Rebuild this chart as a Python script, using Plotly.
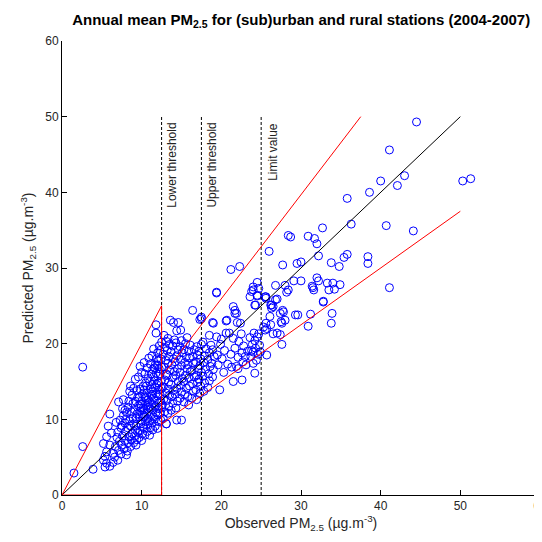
import plotly.graph_objects as go

# ---- data: (observed, predicted) annual means ----
pts_low = [(1.5, 2.9), (2.6, 6.4), (2.6, 16.9), (3.9, 3.4), (5.2, 4.6), (5.6, 4.2), (6.4, 4.3),
           (5.4, 3.7), (6.0, 3.8), (5.8, 9.1), (5.6, 7.7), (6.0, 10.7), (5.2, 6.8), (6.0, 6.6),
           (5.6, 5.7), (6.4, 5.5), (5.4, 5.1), (6.2, 8.2)]

pts_a = [(6.6, 5.0), (6.7, 6.4), (6.9, 7.6), (6.8, 9.6), (7.0, 4.6), (7.1, 5.9), (7.2, 7.1), (7.0, 8.3),
         (7.3, 9.9), (7.1, 12.3), (7.4, 5.4), (7.5, 6.6), (7.6, 7.8), (7.4, 8.9), (7.7, 10.5), (7.6, 11.4),
         (7.8, 6.1), (7.9, 7.2), (8.0, 8.4), (7.9, 9.5), (8.1, 10.9), (7.7, 12.6), (7.9, 11.2), (8.2, 5.8),
         (8.3, 6.9), (8.4, 7.7), (8.2, 8.9), (8.5, 9.8), (8.3, 11.6), (8.5, 13.7), (8.6, 6.4), (8.7, 7.3),
         (8.8, 8.1), (8.6, 9.1), (8.9, 10.2), (8.7, 11.0), (8.9, 12.1), (8.8, 13.2), (9.0, 6.9), (9.1, 7.8),
         (9.2, 8.6), (9.0, 9.4), (9.3, 10.1), (9.1, 11.3), (9.2, 12.4), (9.0, 14.1), (9.4, 7.3), (9.5, 8.3),
         (9.3, 9.1), (9.4, 10.7), (9.6, 11.8), (9.5, 12.9), (9.4, 13.8), (9.2, 15.3), (8.4, 12.4), (8.0, 10.0),
         (7.5, 9.2), (8.6, 14.4), (9.3, 6.6), (8.1, 5.3)]

pts_b = [(9.7, 7.6), (9.8, 8.5), (9.9, 9.4), (9.7, 10.3), (9.8, 11.1), (9.9, 12.0), (9.7, 12.9), (9.8, 14.0),
         (9.6, 15.6), (9.8, 17.0), (10.0, 7.2), (10.1, 8.1), (10.2, 9.0), (10.0, 9.8), (10.1, 10.7), (10.2, 11.5),
         (10.0, 12.4), (10.1, 13.3), (10.2, 14.4), (10.0, 16.2), (10.4, 7.9), (10.3, 8.8), (10.5, 9.7), (10.4, 10.4),
         (10.3, 11.3), (10.5, 12.1), (10.4, 13.0), (10.3, 13.9), (10.5, 14.8), (10.4, 16.0), (10.3, 17.5),
         (10.7, 8.4), (10.6, 9.3), (10.8, 10.1), (10.7, 10.9), (10.6, 11.8), (10.8, 12.6), (10.7, 13.5), (10.6, 14.4),
         (10.8, 15.4), (10.7, 16.8), (10.9, 18.1), (11.0, 7.9), (11.1, 8.9), (11.0, 9.8), (11.2, 10.6), (11.1, 11.4),
         (11.0, 12.3), (11.2, 13.1), (11.1, 14.0), (11.0, 15.0), (11.2, 16.0), (11.1, 17.3), (11.4, 8.6), (11.3, 9.5),
         (11.5, 10.3), (11.4, 11.2), (11.3, 12.0), (11.5, 12.8), (11.4, 13.7), (11.3, 14.6), (11.5, 15.6), (11.4, 16.6),
         (11.3, 18.4), (11.5, 19.3), (11.7, 9.1), (11.6, 10.0), (11.8, 10.9), (11.7, 11.7), (11.6, 12.5), (11.8, 13.4),
         (11.7, 14.2), (11.6, 15.1), (11.8, 16.1), (11.7, 17.2), (11.9, 18.0), (11.8, 21.4), (11.8, 22.5), (12.0, 8.8),
         (12.1, 9.7), (12.0, 10.6), (12.2, 11.4), (12.1, 12.2), (12.0, 13.1), (12.2, 13.9), (12.1, 14.8), (12.0, 15.7),
         (12.2, 16.7), (12.1, 17.7), (12.0, 18.8), (12.2, 19.7), (12.4, 9.9), (12.3, 10.8), (12.5, 11.6), (12.4, 12.4),
         (12.3, 13.3), (12.5, 14.1), (12.4, 15.0), (12.3, 16.0), (12.5, 16.9), (12.4, 18.0), (12.3, 19.1), (12.5, 20.2),
         (10.9, 11.6), (11.3, 13.3), (10.5, 12.8), (11.9, 14.6), (10.2, 10.3), (11.6, 16.8), (12.0, 17.2), (9.9, 11.5)]

pts_c = [(12.7, 10.1), (12.9, 11.0), (12.6, 11.9), (12.8, 12.7), (13.0, 13.5), (12.7, 14.3), (12.9, 15.2),
         (13.1, 16.0), (12.8, 16.9), (13.0, 17.8), (12.7, 18.6), (12.9, 19.5), (13.1, 20.3), (12.8, 21.1), (13.1, 9.4),
         (13.3, 10.8), (13.4, 11.7), (13.2, 12.5), (13.5, 13.2), (13.3, 14.0), (13.4, 14.9), (13.2, 15.8), (13.5, 16.5),
         (13.3, 17.4), (13.4, 18.3), (13.2, 19.1), (13.5, 19.9), (13.3, 20.7), (13.6, 23.1), (13.7, 11.2), (13.9, 12.1),
         (13.8, 13.0), (14.0, 13.8), (13.7, 14.6), (13.9, 15.5), (14.1, 16.3), (13.8, 17.2), (14.0, 18.0), (13.7, 18.9),
         (13.9, 19.7), (14.1, 20.5), (14.0, 22.8), (14.4, 21.7), (14.3, 11.5), (14.5, 12.4), (14.2, 13.3), (14.4, 14.1),
         (14.6, 15.0), (14.3, 15.8), (14.5, 16.7), (14.2, 17.6), (14.4, 18.4), (14.6, 19.2), (14.3, 20.1), (14.6, 22.8),
         (14.4, 9.9), (14.8, 12.8), (15.0, 13.6), (14.9, 14.5), (15.1, 15.4), (14.8, 16.2), (15.0, 17.1), (14.9, 17.9),
         (15.1, 18.8), (14.8, 19.6), (15.0, 20.4), (14.9, 21.8), (15.0, 9.9), (15.3, 12.3), (15.4, 13.3), (15.6, 14.1),
         (15.3, 15.0), (15.5, 15.8), (15.7, 16.7), (15.4, 17.5), (15.6, 18.3), (15.3, 19.2), (15.5, 20.0), (15.7, 20.8),
         (15.9, 11.9), (15.8, 13.0), (16.0, 14.4), (15.9, 15.5), (16.1, 16.3), (15.8, 17.2), (16.0, 18.1), (15.9, 19.0),
         (16.1, 19.8), (16.4, 24.4), (16.3, 12.8), (16.5, 13.7), (16.4, 14.7), (16.6, 15.6), (16.3, 16.5), (16.5, 17.4),
         (16.4, 18.3), (16.6, 19.2), (16.9, 12.6), (16.8, 13.9), (17.0, 14.9), (16.9, 15.8), (17.1, 16.7), (16.8, 17.6),
         (17.0, 18.5), (16.9, 19.6), (17.3, 23.2), (17.5, 23.3), (17.3, 13.4), (17.4, 14.4), (17.2, 15.3), (17.5, 16.2),
         (17.3, 17.1), (17.4, 18.0), (17.2, 19.0), (17.5, 19.9), (17.8, 13.7), (17.9, 14.8), (17.7, 15.7), (18.0, 16.6),
         (17.8, 17.5), (17.9, 18.4), (18.1, 19.3), (17.7, 20.2), (18.5, 21.1), (18.9, 22.8), (18.3, 14.2), (18.5, 15.1),
         (18.4, 16.0), (18.6, 17.0), (18.3, 17.9), (18.5, 18.8), (18.7, 19.8), (18.9, 15.6), (19.0, 16.6), (18.8, 17.4),
         (19.1, 18.3), (18.9, 19.2), (17.5, 23.5), (13.1, 9.4)]

pts_d = [(19.4, 26.7), (19.4, 20.9), (19.8, 13.9), (20.6, 23.0), (21.5, 24.9), (21.7, 24.0), (20.6, 21.4),
         (21.5, 20.7), (21.0, 21.4), (21.3, 16.9), (21.5, 15.0), (22.6, 15.2), (21.2, 29.8), (22.3, 30.2),
         (21.7, 24.4), (21.9, 24.0), (20.7, 23.1), (19.0, 22.7), (22.0, 22.8), (22.4, 22.7), (24.2, 16.1),
         (25.7, 18.5), (27.6, 19.9), (23.6, 26.2), (24.0, 27.1), (24.5, 26.3), (24.2, 25.1), (25.5, 26.2),
         (24.5, 28.1), (24.7, 27.3), (24.0, 27.5), (23.8, 26.9), (24.5, 26.4), (24.3, 25.1), (25.6, 26.2),
         (23.7, 18.3), (24.0, 18.9), (24.3, 19.4), (24.6, 18.6), (23.9, 19.9), (24.2, 20.4), (24.5, 20.9),
         (24.8, 19.8), (23.6, 20.8), (24.1, 21.4), (24.4, 17.8), (24.7, 21.3), (24.0, 17.4), (24.9, 18.9),
         (23.8, 19.1), (22.7, 17.6), (23.0, 18.3), (23.3, 19.0), (22.8, 19.7), (23.1, 17.2), (22.6, 18.8),
         (19.6, 17.2), (20.1, 18.0), (20.4, 19.1), (19.9, 19.9), (20.8, 17.3), (21.2, 18.6), (21.7, 19.4),
         (22.1, 18.2), (20.3, 16.2), (22.2, 20.3), (21.9, 17.0), (19.5, 18.5), (20.0, 20.6), (22.5, 21.3),
         (22.1, 16.7), (19.4, 26.8)]

pts_high = [(44.5, 49.3), (41.1, 45.6), (50.3, 41.5), (51.3, 41.8), (40.0, 41.5), (43.0, 42.2), (42.1, 40.9),
            (38.6, 40.0), (35.8, 39.2), (36.3, 35.8), (40.7, 35.6), (44.1, 34.9), (32.7, 35.3), (28.4, 34.3),
            (28.7, 34.1), (30.9, 34.2), (31.7, 33.9), (32.0, 33.2), (26.0, 32.2), (32.2, 31.6), (27.7, 30.4),
            (29.5, 30.6), (30.0, 30.8), (33.8, 30.7), (34.8, 30.2), (35.4, 31.4), (35.8, 31.8), (38.4, 31.5),
            (38.4, 30.6), (26.8, 27.7), (28.0, 27.7), (29.1, 28.3), (30.0, 28.3), (32.0, 28.7), (32.2, 28.3),
            (31.4, 27.6), (31.5, 27.4), (33.3, 28.0), (34.0, 28.0), (34.9, 27.8), (33.5, 27.1), (34.2, 27.2),
            (28.4, 27.1), (41.1, 27.4), (32.8, 25.6), (27.0, 25.9), (26.3, 25.1), (28.2, 26.8), (31.2, 23.9),
            (30.9, 22.3), (33.8, 22.7), (33.9, 24.0), (29.3, 23.8), (29.6, 23.8), (27.4, 24.0), (27.8, 24.2),
            (27.5, 22.9), (27.6, 22.7), (26.1, 23.6), (26.3, 24.7), (26.2, 25.1), (26.8, 25.8), (31.6, 27.1),
            (25.6, 22.7), (25.3, 22.2), (25.7, 22.0), (25.5, 21.8), (26.5, 21.3), (27.0, 21.4), (27.4, 21.2),
            (28.0, 23.1), (26.2, 22.5), (27.7, 24.4), (26.5, 24.9), (25.6, 26.0), (32.8, 25.5)]

# reference lines (µg/m3)
thresholds = [12.5, 17.5, 25.0]
threshold_labels = ["Lower threshold", "Upper threshold", "Limit value"]
line_top = 50.0
one_to_one = [0.0, 50.0]
low_env_x = [0.0, 12.5, 12.5, 0.0]
low_env_y = [0.0, 25.0, 0.0, 0.0]
upper_env_x = [12.5, 37.5]
upper_env_y = [15.625, 50.0]
lower_env_x = [12.5, 50.0]
lower_env_y = [9.375, 37.5]

x_ticks = [0, 10, 20, 30, 40, 50, 60]
y_ticks = [0, 10, 20, 30, 40, 50, 60]

FONT = "Liberation Sans, Arial, sans-serif"

# ---- figure ----
all_pts = pts_low + pts_a + pts_b + pts_c + pts_d + pts_high
obs = [p[0] for p in all_pts]
pred = [p[1] for p in all_pts]

fig = go.Figure()
fig.add_trace(go.Scatter(x=obs, y=pred, mode="markers",
                         marker=dict(symbol="circle-open", size=8, color="#0000ff",
                                     line=dict(width=1, color="#0000ff")),
                         hoverinfo="x+y", showlegend=False))

for t in thresholds:
    fig.add_trace(go.Scatter(x=[t, t], y=[0, line_top], mode="lines",
                             line=dict(color="black", width=1, dash="3px,2px"),
                             showlegend=False, hoverinfo="skip"))

fig.add_trace(go.Scatter(x=one_to_one, y=one_to_one, mode="lines",
                         line=dict(color="black", width=1), showlegend=False, hoverinfo="skip"))
for ex, ey in [(low_env_x, low_env_y), (upper_env_x, upper_env_y), (lower_env_x, lower_env_y)]:
    fig.add_trace(go.Scatter(x=ex, y=ey, mode="lines",
                             line=dict(color="#ff0000", width=1), showlegend=False, hoverinfo="skip"))

for t, lab in zip(thresholds, threshold_labels):
    fig.add_annotation(x=t, y=line_top, text=lab, textangle=-90, showarrow=False,
                       xanchor="left", yanchor="top", xshift=2, yshift=-4,
                       font=dict(family=FONT, size=12, color="#222222"))

axis_common = dict(range=[0, 60], showgrid=False, zeroline=False, showline=True,
                   linecolor="black", linewidth=1, ticks="inside", ticklen=5, tickwidth=1,
                   tickcolor="black", mirror=False, automargin=False, ticklabeloverflow="allow",
                   tickfont=dict(family=FONT, size=12, color="#262626"))

fig.update_xaxes(**axis_common, tickvals=x_ticks,
                 title=dict(text="Observed PM<sub>2.5</sub> (µg.m<sup>-3</sup>)", standoff=2,
                            font=dict(family=FONT, size=14, color="#262626")))
fig.update_yaxes(**axis_common, tickvals=y_ticks,
                 title=dict(text="Predicted PM<sub>2.5</sub> (µg.m<sup>-3</sup>)", standoff=8,
                            font=dict(family=FONT, size=14, color="#262626")))

fig.update_layout(
    width=534, height=534,
    margin=dict(l=54, r=2, t=33, b=47),
    plot_bgcolor="white", paper_bgcolor="white",
    title=dict(text="<b>Annual mean PM<sub>2.5</sub> for (sub)urban and rural stations (2004-2007)</b>",
               x=0.549, xanchor="center", y=0.978, yanchor="middle",
               font=dict(family=FONT, size=15, color="black")),
)

fig.write_html("out.html")
